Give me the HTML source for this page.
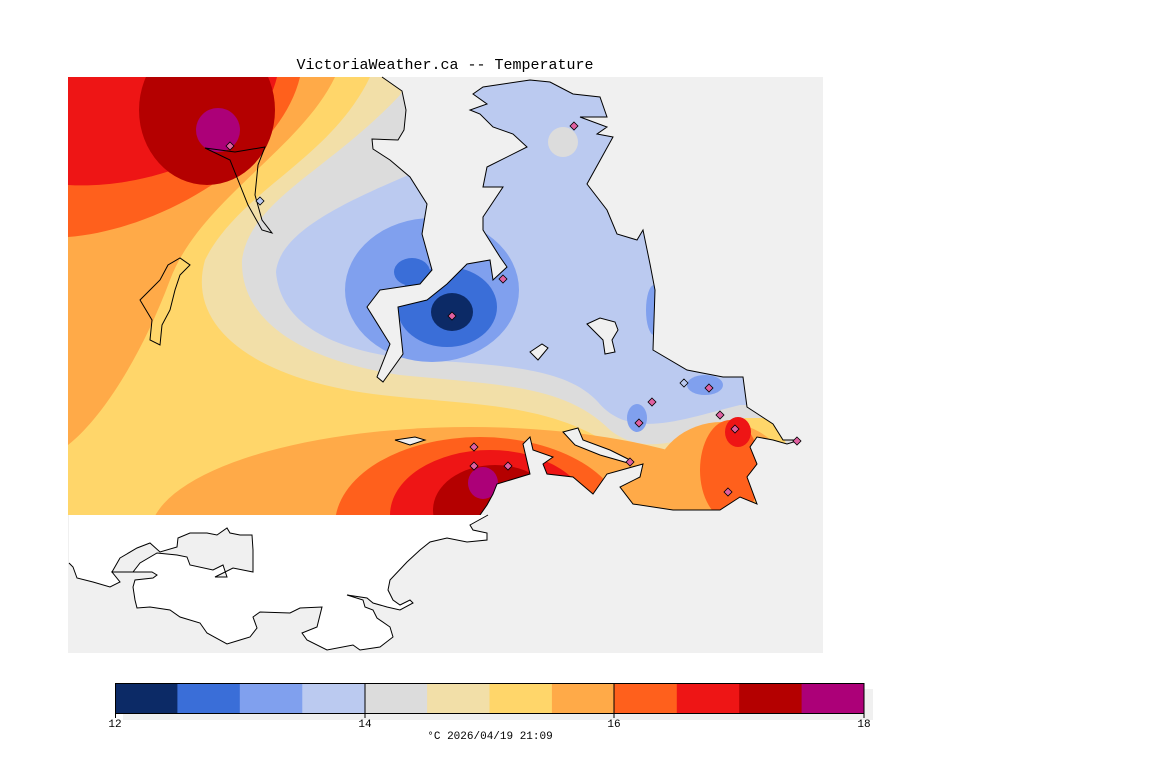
<!DOCTYPE html>
<html><head><meta charset="utf-8"><style>
html,body{margin:0;padding:0;background:#fff;width:1152px;height:768px;overflow:hidden}
svg{display:block}
text{font-family:"Liberation Mono",monospace}
</style></head><body>
<svg width="1152" height="768" viewBox="0 0 1152 768" xmlns="http://www.w3.org/2000/svg">
<defs>
<clipPath id="land"><path d="M68,77 L382,77 L402,91 L406,110 L404,130 L398,140 L372,139 L373,149 L390,160 L410,177 L427,204 L422,234 L432,270 L420,284 L380,290 L367,307 L390,344 L377,377 L383,382 L403,354 L398,307 L427,300 L447,284 L467,264 L490,260 L493,280 L507,267 L500,257 L483,230 L483,217 L503,187 L483,187 L487,167 L527,147 L513,134 L493,127 L480,114 L470,110 L487,104 L473,94 L483,87 L530,80 L550,82 L573,94 L600,97 L607,117 L580,117 L607,127 L597,134 L613,137 L587,184 L607,210 L617,234 L637,240 L643,230 L650,264 L655,290 L653,350 L687,370 L723,377 L743,377 L747,407 L773,424 L783,440 L800,440 L787,444 L773,440 L757,437 L750,447 L757,464 L747,477 L757,504 L740,497 L720,510 L673,510 L633,504 L620,487 L640,477 L643,464 L607,474 L593,494 L573,477 L547,474 L543,464 L553,457 L533,450 L530,437 L523,444 L530,474 L497,484 L493,494 L487,505 L480,515 L68,515 Z"/></clipPath>
</defs>
<rect x="68" y="77" width="755" height="576" fill="#f0f0f0"/>
<g clip-path="url(#land)">
<rect x="68" y="77" width="760" height="440" fill="#ffaa48"/>
<path d="M335,77 C300,150 200,200 170,280 C140,360 100,420 68,445 L68,520 L830,520 L830,77 Z" fill="#ffd66a"/>
<path d="M370,77 C330,160 240,190 205,260 C185,330 260,385 400,397 C480,405 560,405 620,452 C660,475 720,420 760,412 L830,412 L830,77 Z" fill="#f2dfa8"/>
<path d="M400,95 C330,170 250,200 242,260 C240,320 300,360 400,375 C500,385 565,385 610,430 C650,462 700,432 745,418 L830,418 L830,77 L410,77 Z" fill="#dcdcdc"/>
<path d="M420,170 C350,200 280,230 276,272 C280,322 330,352 420,360 C520,365 570,372 598,402 C630,440 680,420 740,405 L830,405 L830,77 L430,77 Z" fill="#bbcaf0"/>
<ellipse cx="563" cy="142" rx="15" ry="15" fill="#dcdcdc"/>
<ellipse cx="432" cy="290" rx="87" ry="72" fill="#80a0ee"/>
<ellipse cx="637" cy="418" rx="10" ry="14" fill="#80a0ee"/>
<ellipse cx="705" cy="385" rx="18" ry="10" fill="#80a0ee"/>
<ellipse cx="654" cy="310" rx="8" ry="25" fill="#80a0ee"/>
<ellipse cx="447" cy="307" rx="50" ry="40" fill="#3a6ed8"/>
<ellipse cx="412" cy="272" rx="18" ry="14" fill="#3a6ed8"/>
<ellipse cx="452" cy="312" rx="21" ry="19" fill="#0c2a66"/>
<path d="M68,237 C160,230 280,160 300,77 L68,77 Z" fill="#ff601c"/>
<path d="M68,185 C150,190 260,150 277,77 L68,77 Z" fill="#ee1515"/>
<ellipse cx="207" cy="110" rx="68" ry="75" fill="#b40000"/>
<ellipse cx="218" cy="130" rx="22" ry="22" fill="#ac0078"/>
<ellipse cx="470" cy="535" rx="320" ry="108" fill="#ffaa48"/>
<ellipse cx="480" cy="525" rx="145" ry="88" fill="#ff601c"/>
<ellipse cx="490" cy="515" rx="100" ry="65" fill="#ee1515"/>
<ellipse cx="495" cy="510" rx="62" ry="45" fill="#b40000"/>
<ellipse cx="483" cy="483" rx="15" ry="16" fill="#ac0078"/>
<ellipse cx="722" cy="482" rx="68" ry="60" fill="#ffaa48"/>
<ellipse cx="730" cy="470" rx="30" ry="50" fill="#ff601c"/>
<ellipse cx="738" cy="432" rx="13" ry="15" fill="#ee1515"/>
<ellipse cx="800" cy="440" rx="15" ry="10" fill="#dcdcdc"/>
</g>
<path d="M382,77 L402,91 L406,110 L404,130 L398,140 L372,139 L373,149 L390,160 L410,177 L427,204 L422,234 L432,270 L420,284 L380,290 L367,307 L390,344 L377,377 L383,382 L403,354 L398,307 L427,300 L447,284 L467,264 L490,260 L493,280 L507,267 L500,257 L483,230 L483,217 L503,187 L483,187 L487,167 L527,147 L513,134 L493,127 L480,114 L470,110 L487,104 L473,94 L483,87 L530,80 L550,82 L573,94 L600,97 L607,117 L580,117 L607,127 L597,134 L613,137 L587,184 L607,210 L617,234 L637,240 L643,230 L650,264 L655,290 L653,350 L687,370 L723,377 L743,377 L747,407 L773,424 L783,440 L800,440 L787,444 L773,440 L757,437 L750,447 L757,464 L747,477 L757,504 L740,497 L720,510 L673,510 L633,504 L620,487 L640,477 L643,464 L607,474 L593,494 L573,477 L547,474 L543,464 L553,457 L533,450 L530,437 L523,444 L530,474 L497,484 L493,494 L487,505 L480,515" fill="none" stroke="#000" stroke-width="1"/>
<path d="M69,515 L488,515 L470,525 L473,530 L487,533 L487,540 L467,542 L447,538 L430,542 L420,550 L407,562 L390,580 L388,590 L393,600 L400,605 L410,600 L413,603 L400,610 L387,607 L373,603 L367,598 L347,595 L363,600 L365,607 L373,610 L377,618 L390,627 L393,637 L380,647 L360,650 L353,645 L327,650 L307,640 L302,633 L317,627 L322,607 L300,608 L290,613 L260,612 L253,617 L257,628 L250,637 L240,640 L227,644 L207,633 L200,623 L180,617 L170,610 L150,607 L137,608 L135,600 L133,587 L135,580 L153,578 L157,575 L152,572 L133,572 L112,572 L120,582 L110,587 L93,582 L77,578 L73,567 L69,563 Z" fill="#fff"/>
<path d="M488,515 L470,525 L473,530 L487,533 L487,540 L467,542 L447,538 L430,542 L420,550 L407,562 L390,580 L388,590 L393,600 L400,605 L410,600 L413,603 L400,610 L387,607 L373,603 L367,598 L347,595 L363,600 L365,607 L373,610 L377,618 L390,627 L393,637 L380,647 L360,650 L353,645 L327,650 L307,640 L302,633 L317,627 L322,607 L300,608 L290,613 L260,612 L253,617 L257,628 L250,637 L240,640 L227,644 L207,633 L200,623 L180,617 L170,610 L150,607 L137,608 L135,600 L133,587 L135,580 L153,578 L157,575 L152,572 L133,572 L112,572 L120,582 L110,587 L93,582 L77,578 L73,567 L69,563" fill="none" stroke="#000" stroke-width="1"/>
<path d="M120,558 L137,548 L150,543 L160,552 L177,547 L178,538 L190,533 L207,533 L217,535 L227,528 L230,533 L240,535 L252,535 L253,550 L253,572 L233,568 L215,577 L227,577 L223,565 L213,570 L190,565 L187,557 L177,555 L157,553 L140,563 L133,572 L112,572 Z" fill="#f0f0f0" stroke="#000" stroke-width="1"/>
<path d="M140,300 L150,290 L160,280 L168,265 L180,258 L190,265 L180,275 L175,290 L170,310 L162,325 L160,345 L150,340 L152,320 L146,310 Z" fill="none" stroke="#000"/>
<path d="M205,148 L235,152 L265,147 L258,165 L255,195 L262,220 L272,233 L262,230 L248,205 L238,180 L230,160 Z" fill="none" stroke="#000"/>
<path d="M587,324 L600,318 L615,322 L618,330 L612,340 L615,352 L605,354 L603,340 Z" fill="#f0f0f0" stroke="#000"/>
<path d="M530,352 L542,344 L548,348 L538,360 Z" fill="#f0f0f0" stroke="#000"/>
<path d="M563,432 L578,428 L583,440 L610,450 L630,460 L628,463 L600,455 L575,445 Z" fill="#f0f0f0" stroke="#000"/>
<path d="M395,440 L415,437 L425,440 L410,445 Z" fill="#f0f0f0" stroke="#000"/>
<g stroke="#000" stroke-width="0.8" fill="#e060a0">
<path d="M230,142 l4,4 -4,4 -4,-4z"/><path d="M260,197 l4,4 -4,4 -4,-4z" fill="#bbcaf0"/>
<path d="M574,122 l4,4 -4,4 -4,-4z"/><path d="M503,275 l4,4 -4,4 -4,-4z"/>
<path d="M452,312 l4,4 -4,4 -4,-4z"/><path d="M684,379 l4,4 -4,4 -4,-4z" fill="#bbcaf0"/>
<path d="M709,384 l4,4 -4,4 -4,-4z"/><path d="M652,398 l4,4 -4,4 -4,-4z"/>
<path d="M639,419 l4,4 -4,4 -4,-4z"/><path d="M720,411 l4,4 -4,4 -4,-4z"/>
<path d="M735,425 l4,4 -4,4 -4,-4z"/><path d="M630,458 l4,4 -4,4 -4,-4z"/>
<path d="M728,488 l4,4 -4,4 -4,-4z"/><path d="M474,443 l4,4 -4,4 -4,-4z"/>
<path d="M474,462 l4,4 -4,4 -4,-4z"/><path d="M508,462 l4,4 -4,4 -4,-4z"/>
<path d="M797,437 l4,4 -4,4 -4,-4z"/>
</g>
<text x="445" y="69" font-size="15" text-anchor="middle" fill="#000">VictoriaWeather.ca -- Temperature</text>
<rect x="123" y="689" width="750" height="31" fill="#f0f0f0"/>
<g>
<rect x="115" y="683" width="63" height="31" fill="#0c2a66"/>
<rect x="177.4" y="683" width="63" height="31" fill="#3a6ed8"/>
<rect x="239.8" y="683" width="63" height="31" fill="#80a0ee"/>
<rect x="302.3" y="683" width="63" height="31" fill="#bbcaf0"/>
<rect x="364.7" y="683" width="63" height="31" fill="#dcdcdc"/>
<rect x="427.1" y="683" width="63" height="31" fill="#f2dfa8"/>
<rect x="489.5" y="683" width="63" height="31" fill="#ffd66a"/>
<rect x="551.9" y="683" width="63" height="31" fill="#ffaa48"/>
<rect x="614.3" y="683" width="63" height="31" fill="#ff601c"/>
<rect x="676.8" y="683" width="63" height="31" fill="#ee1515"/>
<rect x="739.2" y="683" width="63" height="31" fill="#b40000"/>
<rect x="801.6" y="683" width="62.4" height="31" fill="#ac0078"/>
</g>
<rect x="115.5" y="683.5" width="748.5" height="30" fill="none" stroke="#000"/>
<path d="M365,683 V718 M614,683 V718 M115.5,714 V718 M864,714 V718" stroke="#000"/>
<g font-size="11" text-anchor="middle" fill="#000">
<text x="115" y="727">12</text><text x="365" y="727">14</text><text x="614" y="727">16</text><text x="864" y="727">18</text>
<text x="490" y="739">°C  2026/04/19 21:09</text>
</g>
</svg>
</body></html>
